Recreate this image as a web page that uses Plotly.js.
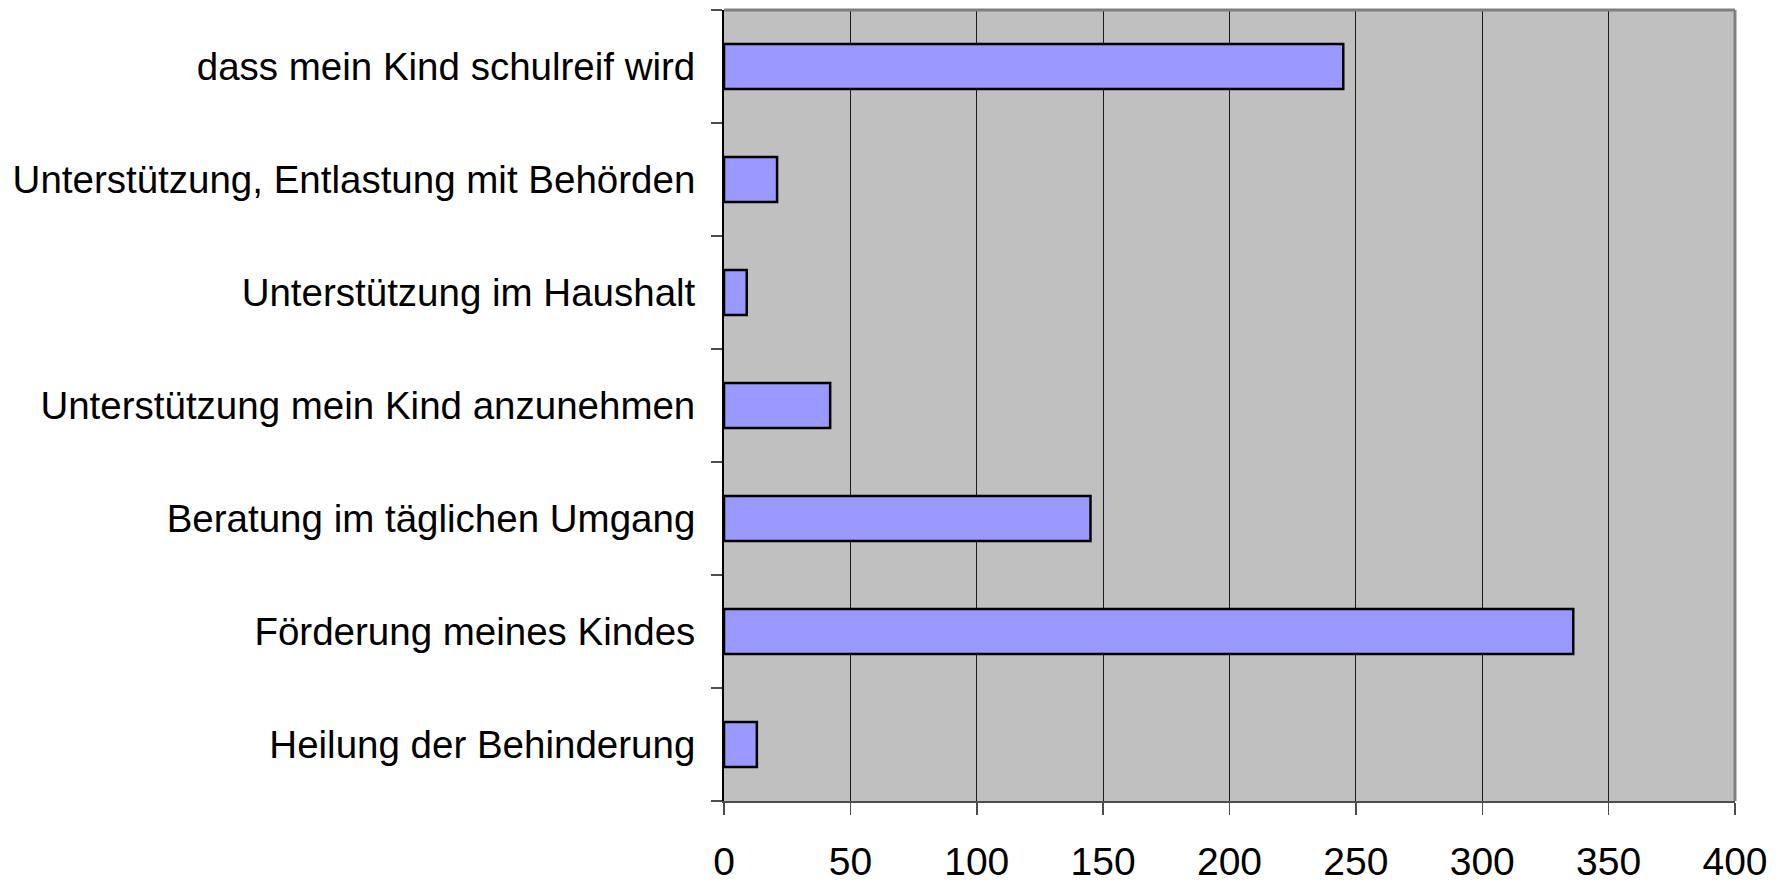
<!DOCTYPE html>
<html>
<head>
<meta charset="utf-8">
<script src="https://cdn.plot.ly/plotly-3.0.1.min.js"></script>
<style>html,body{margin:0;padding:0;background:#fff;}#chart{width:1783px;height:882px;}</style>
</head>
<body>
<div id="chart"></div>
<script>
const categories = [
  "Heilung der Behinderung",
  "Förderung meines Kindes",
  "Beratung im täglichen Umgang",
  "Unterstützung mein Kind anzunehmen",
  "Unterstützung im Haushalt",
  "Unterstützung, Entlastung mit Behörden",
  "dass mein Kind schulreif wird"
];
const values = [13, 336, 145, 42, 9, 21, 245];
const xTickValues = [0, 50, 100, 150, 200, 250, 300, 350, 400];

const trace = {
  type: "bar",
  orientation: "h",
  y: categories,
  x: values,
  marker: { color: "#9999FF", line: { color: "#000000", width: 2.5 } },
  hoverinfo: "x+y"
};

const layout = {
  width: 1783,
  height: 882,
  margin: { l: 724, r: 48, t: 10, b: 81 },
  paper_bgcolor: "#FFFFFF",
  plot_bgcolor: "#C0C0C0",
  font: { family: "Liberation Sans, Arial, sans-serif", size: 38, color: "#000000" },
  bargap: 0.6,
  showlegend: false,
  xaxis: {
    range: [0, 400],
    tickvals: xTickValues,
    ticktext: xTickValues.map(String),
    showgrid: true,
    gridcolor: "#1a1a1a",
    gridwidth: 1,
    zeroline: false,
    showline: true,
    linecolor: "#4d4d4d",
    linewidth: 2,
    ticks: "outside",
    ticklen: 12,
    tickcolor: "#4d4d4d",
    tickwidth: 1.5,
    ticklabelstandoff: 13,
    tickfont: { size: 39 },
    fixedrange: true
  },
  yaxis: {
    type: "category",
    categoryorder: "array",
    categoryarray: categories,
    showgrid: false,
    zeroline: false,
    showline: true,
    linecolor: "#000000",
    linewidth: 2,
    ticks: "outside",
    tickson: "boundaries",
    ticklen: 11,
    tickcolor: "#4d4d4d",
    tickwidth: 1.5,
    ticklabelstandoff: 19,
    tickfont: { size: 38.5 },
    fixedrange: true
  },
  shapes: [
    { type: "line", xref: "paper", yref: "paper", x0: 0, x1: 1, y0: 1, y1: 1, line: { color: "#808080", width: 3 }, layer: "above" },
    { type: "line", xref: "paper", yref: "paper", x0: 1, x1: 1, y0: 0, y1: 1, line: { color: "#808080", width: 3 }, layer: "above" }
  ]
};

Plotly.newPlot("chart", [trace], layout, { displayModeBar: false, staticPlot: true });
</script>
</body>
</html>
